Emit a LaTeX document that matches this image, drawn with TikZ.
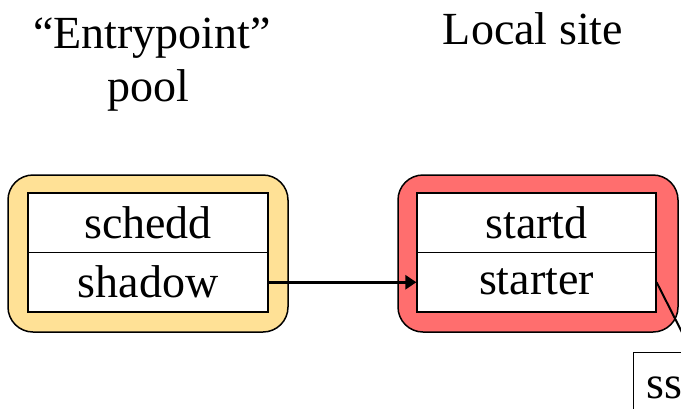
\documentclass[tikz,border=0pt]{standalone}
\usepackage{fontspec}
\setmainfont{Liberation Serif}
\usetikzlibrary{arrows.meta}
\definecolor{poolyellow}{RGB}{255,225,150}
\definecolor{sitered}{RGB}{255,110,110}
\tikzset{
  big/.style={font=\fontsize{46pt}{52pt}\selectfont},
  title/.style={big, anchor=base, inner sep=0pt},
  frame/.style={draw=black, line width=1.5pt, rounded corners=25pt, minimum width=280pt, minimum height=157pt, inner sep=0pt},
  cell/.style={draw=black, fill=white, line width=1.2pt, minimum width=240pt, minimum height=59.5pt, inner sep=0pt, big},
  link/.style={line width=2.6pt},
}
\begin{document}
\begin{tikzpicture}[x=1pt, y=-1pt]
\useasboundingbox (0,0) rectangle (681,408);
\clip (0,0) rectangle (681,408);

% column headings
\node[title] (poolA) at (152,48) {“Entrypoint”};
\node[title] (poolB) at (148,101) {pool};
\node[title] (local) at (533,44) {Local site};

% the two machines
\node[frame, fill=poolyellow] (pool) at (148,253.5) {};
\node[frame, fill=sitered] (site) at (538,253.5) {};

% daemons inside each machine
\node[cell] (schedd) at (148,222.75) {schedd};
\node[cell] (shadow) at (148,282.25) {shadow};
\node[cell, minimum width=239pt] (startd) at (536.5,222.75) {startd};
\node[cell, minimum width=239pt] (starter) at (536.5,282.25) {starter};

% partly visible process box below the starter
\node[draw=black, fill=white, line width=1.2pt, anchor=north west,
      minimum width=140pt, minimum height=100pt] (ssbox) at (633,352) {};
\node[big, anchor=base west, inner sep=0pt] (sslabel) at (646,398) {ss};

% connections
\draw[link, -{Triangle[length=11pt, width=14pt]}] (shadow.east) -- (starter.west);
\coordinate (down) at (692,352);
\draw[link, line width=2pt] (starter.east) -- (down);
\end{tikzpicture}
\end{document}
